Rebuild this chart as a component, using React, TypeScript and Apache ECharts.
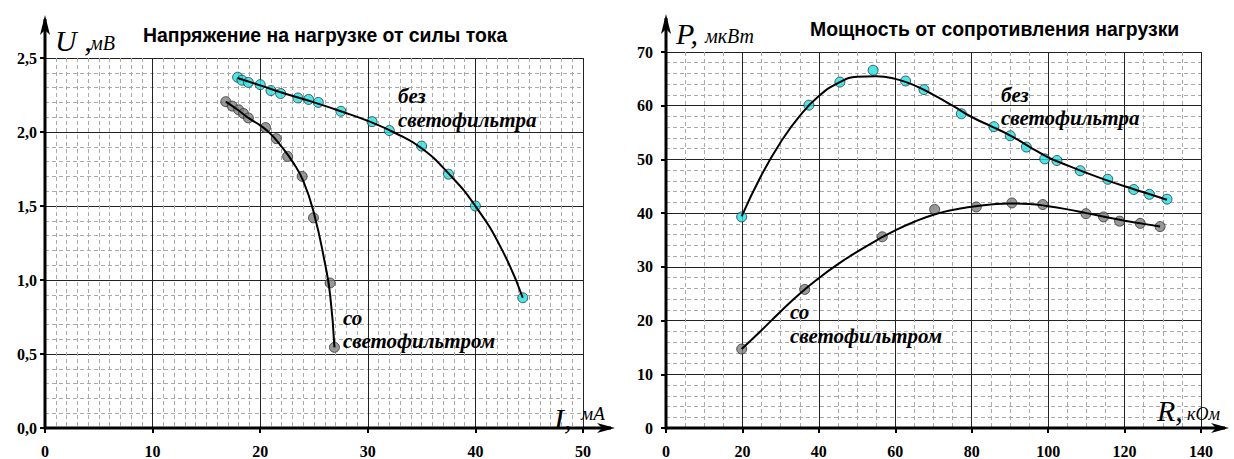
import React, { useEffect, useRef } from "react";
import * as echarts from "echarts";

// Left chart: U (mV) vs I (mA)
const leftXTicks = [0, 10, 20, 30, 40, 50];
const leftYTicks = [0, 0.5, 1.0, 1.5, 2.0, 2.5];
const noFilterI = [17.9, 18.3, 18.9, 20.0, 21.0, 21.9, 23.5, 24.5, 25.4, 27.5, 30.4, 32.0, 35.0, 37.5, 40.0, 44.4];
const noFilterU = [2.37, 2.35, 2.335, 2.32, 2.28, 2.26, 2.23, 2.22, 2.2, 2.14, 2.07, 2.01, 1.905, 1.715, 1.5, 0.88];
const filterI = [16.8, 17.4, 18.0, 18.45, 18.9, 20.5, 21.5, 22.55, 23.9, 24.95, 26.5, 26.9];
const filterU = [2.205, 2.175, 2.15, 2.125, 2.095, 2.03, 1.955, 1.835, 1.7, 1.42, 0.98, 0.545];
// trend curves
const noFilterTrendI = [17.9, 20, 22.5, 25, 27.5, 30, 32.5, 35, 37.5, 40, 42.5, 44.4];
const noFilterTrendU = [2.365, 2.315, 2.255, 2.2, 2.14, 2.075, 1.995, 1.89, 1.72, 1.5, 1.2, 0.88];
const filterTrendI = [16.8, 18, 19, 20, 21, 22, 23, 24, 25, 26, 26.5, 26.9];
const filterTrendU = [2.205, 2.145, 2.09, 2.045, 1.985, 1.9, 1.8, 1.67, 1.45, 1.12, 0.9, 0.545];

// Right chart: P (µW) vs R (kOhm)
const rightXTicks = [0, 20, 40, 60, 80, 100, 120, 140];
const rightYTicks = [0, 10, 20, 30, 40, 50, 60, 70];
const noFilterR = [19.8, 37.4, 45.5, 54.2, 62.7, 67.5, 77.3, 85.8, 90.1, 94.3, 99.1, 102.3, 108.4, 115.6, 122.4, 126.5, 131.1];
const noFilterP = [39.3, 60.1, 64.4, 66.6, 64.6, 63.0, 58.5, 56.1, 54.4, 52.3, 50.1, 49.8, 47.9, 46.3, 44.4, 43.5, 42.6];
const filterR = [19.8, 36.3, 56.6, 70.3, 81.2, 90.5, 98.6, 109.9, 114.5, 118.7, 124.1, 129.3];
const filterP = [14.7, 25.8, 35.6, 40.7, 41.15, 41.9, 41.6, 39.9, 39.3, 38.5, 38.1, 37.5];
const noFilterTrendR = [19.8, 25, 30, 35, 40, 45, 50, 55, 60, 65, 70, 75, 80, 85, 90, 95, 100, 105, 110, 115, 120, 125, 131.1];
const noFilterTrendP = [39.4, 47.1, 53.2, 58.1, 61.8, 64.2, 65.4, 65.5, 65.0, 63.8, 62.0, 60.0, 57.9, 56.2, 54.5, 52.4, 50.4, 48.9, 47.5, 46.2, 45.0, 43.9, 42.5];
const filterTrendR = [19.8, 25, 30, 35, 40, 45, 50, 55, 60, 65, 70, 75, 80, 85, 90, 95, 100, 105, 110, 115, 120, 125, 129.3];
const filterTrendP = [14.7, 18.2, 21.7, 25.0, 27.9, 30.5, 32.8, 34.9, 36.8, 38.4, 39.7, 40.6, 41.2, 41.6, 41.8, 41.7, 41.3, 40.7, 40.0, 39.3, 38.6, 38.0, 37.5];

const zip = (a: number[], b: number[]) => a.map((v, i) => [v, b[i]]);

const SERIF = "Liberation Serif";
const SANS = "Liberation Sans";
const CYAN = "#1fe0e6";
const GRAY = "#7f7f7f";

export default function App() {
  const ref = useRef<HTMLDivElement>(null);
  useEffect(() => {
    const chart = echarts.init(ref.current!, null, { renderer: "svg" });
    const mkX = (gridIndex: number, ticks: number[], minorSplit: number) => ({
      gridIndex,
      type: "value",
      min: ticks[0],
      max: ticks[ticks.length - 1],
      interval: ticks[1] - ticks[0],
      axisLine: { show: false },
      axisTick: { show: true, length: 5, lineStyle: { color: "#000", width: 2 } },
      axisLabel: { margin: 15, fontFamily: SERIF, fontWeight: "bold", fontSize: 16, color: "#000" },
      splitLine: { show: true, lineStyle: { color: "#222", width: 1 } },
      minorTick: { show: false, splitNumber: minorSplit },
      minorSplitLine: { show: true, lineStyle: { color: "#aaa", width: 1, type: [4, 3] } },
    });
    const mkY = (gridIndex: number, ticks: number[], minorSplit: number, fmt: (v: number) => string, margin: number) => ({
      gridIndex,
      type: "value",
      min: ticks[0],
      max: ticks[ticks.length - 1],
      interval: ticks[1] - ticks[0],
      axisLine: { show: false },
      axisTick: { show: true, length: 5, lineStyle: { color: "#000", width: 2 } },
      axisLabel: { margin, fontFamily: SERIF, fontWeight: "bold", fontSize: 16, color: "#000", formatter: fmt },
      splitLine: { show: true, lineStyle: { color: "#222", width: 1 } },
      minorTick: { show: false, splitNumber: minorSplit },
      minorSplitLine: { show: true, lineStyle: { color: "#aaa", width: 1, type: [4, 3] } },
    });
    const scatter = (xi: number, data: number[][], color: string) => ({
      type: "scatter",
      xAxisIndex: xi,
      yAxisIndex: xi,
      data,
      symbol: "circle",
      symbolSize: 10,
      itemStyle: { color, borderColor: "#333", borderWidth: 1 },
      z: 2,
    });
    const curve = (xi: number, data: number[][]) => ({
      type: "line",
      xAxisIndex: xi,
      yAxisIndex: xi,
      data,
      smooth: 0.5,
      showSymbol: false,
      symbol: "none",
      lineStyle: { color: "#000", width: 2 },
      z: 3,
    });
    chart.setOption({
      animation: false,
      grid: [
        { left: 45, top: 58, width: 538, height: 372 },
        { left: 666, top: 52, width: 535, height: 379 },
      ],
      xAxis: [mkX(0, leftXTicks, 10), mkX(1, rightXTicks, 4)],
      yAxis: [
        mkY(0, leftYTicks, 5, (v: number) => v.toFixed(1).replace(".", ","), 8),
        mkY(1, rightYTicks, 5, (v: number) => String(v), 13),
      ],
      series: [
        scatter(0, zip(noFilterI, noFilterU), CYAN),
        curve(0, zip(noFilterTrendI, noFilterTrendU)),
        scatter(0, zip(filterI, filterU), GRAY),
        curve(0, zip(filterTrendI, filterTrendU)),
        scatter(1, zip(noFilterR, noFilterP), CYAN),
        curve(1, zip(noFilterTrendR, noFilterTrendP)),
        scatter(1, zip(filterR, filterP), GRAY),
        curve(1, zip(filterTrendR, filterTrendP)),
      ],
    });

    const o1 = chart.convertToPixel({ gridIndex: 0 }, [0, 0]) as number[];
    const o2 = chart.convertToPixel({ gridIndex: 1 }, [0, 0]) as number[];
    const txt = (x: number, y: number, text: string, family: string, size: number, weight: string, fstyle: string) => ({
      type: "text",
      x,
      y,
      z: 100,
      style: {
        text,
        fontFamily: family,
        fontSize: size,
        fontWeight: weight,
        fontStyle: fstyle,
        fill: "#000",
        align: "left",
        verticalAlign: "middle",
      },
    });
    const axes = (o: number[], xTip: number, yTip: number) => [
      { type: "line", z: 90, shape: { x1: o[0], y1: o[1], x2: xTip - 4, y2: o[1] }, style: { stroke: "#000", lineWidth: 3 } },
      { type: "line", z: 90, shape: { x1: o[0], y1: o[1] + 1.5, x2: o[0], y2: yTip + 4 }, style: { stroke: "#000", lineWidth: 3 } },
      { type: "polygon", z: 91, shape: { points: [[xTip, o[1]], [xTip - 18, o[1] - 5], [xTip - 13, o[1]], [xTip - 18, o[1] + 5]] }, style: { fill: "#000" } },
      { type: "polygon", z: 91, shape: { points: [[o[0], yTip], [o[0] - 5, yTip + 20], [o[0], yTip + 15], [o[0] + 5, yTip + 20]] }, style: { fill: "#000" } },
    ];
    const lab = (x: number, y: number, t: string) => txt(x, y, t, SERIF, 21, "bold", "italic");
    chart.setOption({
      graphic: [
        ...axes(o1, 615, 15),
        ...axes(o2, 1229, 14),
        txt(143, 35, "Напряжение на нагрузке от силы тока", SANS, 19.4, "bold", "normal"),
        txt(810, 29, "Мощность от сопротивления нагрузки", SANS, 19.4, "bold", "normal"),
        txt(55, 40, "U ,", SERIF, 30, "normal", "italic"),
        txt(90, 43, "мВ", SERIF, 20, "normal", "italic"),
        txt(676, 33, "P,", SERIF, 30, "normal", "italic"),
        txt(705, 36, "мкВт", SERIF, 20, "normal", "italic"),
        txt(554, 418, "I,", SERIF, 30, "normal", "italic"),
        txt(581, 413, "мА", SERIF, 19, "normal", "italic"),
        txt(1157, 410, "R,", SERIF, 30, "normal", "italic"),
        txt(1187, 414, "кОм", SERIF, 18, "normal", "italic"),
        lab(398, 96, "без"),
        lab(398, 120, "светофильтра"),
        lab(343, 318, "со"),
        lab(343, 341, "светофильтром"),
        lab(1001, 95, "без"),
        lab(1001, 118, "светофильтра"),
        lab(790, 312, "со"),
        lab(790, 336, "светофильтром"),
      ],
    });
    return () => chart.dispose();
  }, []);
  return (
    <div
      ref={ref}
      style={{ position: "fixed", left: 0, top: 0, width: 1234, height: 459, background: "#fff" }}
    />
  );
}
